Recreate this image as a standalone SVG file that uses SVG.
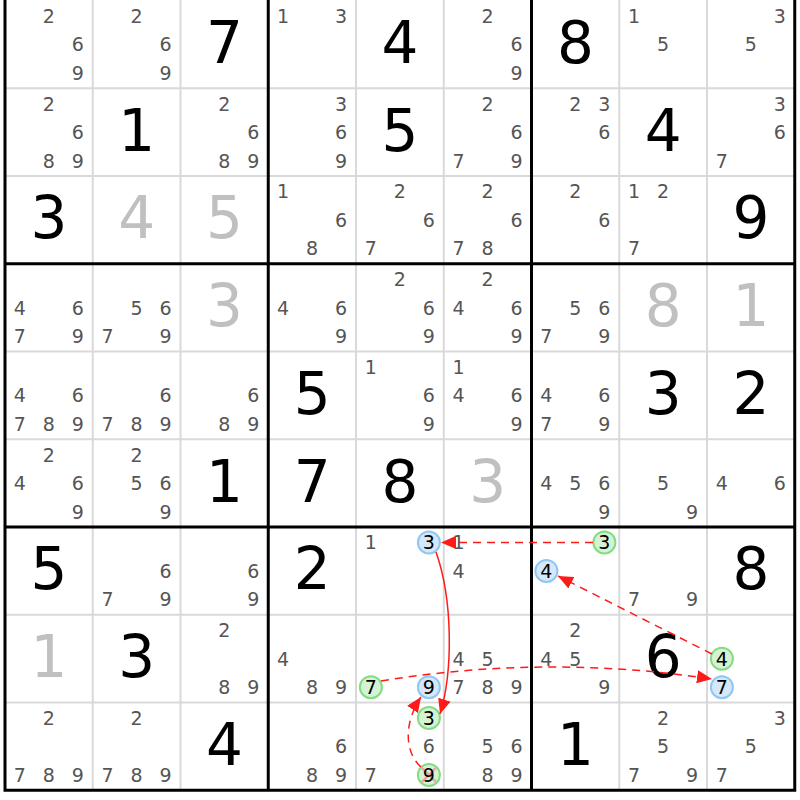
<svg xmlns="http://www.w3.org/2000/svg" width="800" height="800" viewBox="0 0 800 800">
<defs>
<style>
.c{font-family:"DejaVu Sans",Verdana,sans-serif;font-size:19px;fill:#555;text-anchor:middle}
.k{font-family:"DejaVu Sans",Verdana,sans-serif;font-size:19px;fill:#000;text-anchor:middle}
.g{font-family:"DejaVu Sans",Verdana,sans-serif;font-size:58px;fill:#000;text-anchor:middle}
.s{font-family:"DejaVu Sans",Verdana,sans-serif;font-size:58px;fill:#c0c0c0;text-anchor:middle}
.thin{stroke:#d9d9d9;stroke-width:2}
.thick{stroke:#000;stroke-width:3}
.cg{fill:#d4f3d4;stroke:#84db84;stroke-width:2}
.cb{fill:#d4e8fa;stroke:#90c6f2;stroke-width:2}
.arr{fill:none;stroke:#ff1a1a;stroke-width:1.5}
.dash{stroke-dasharray:8,6}
</style>
<marker id="ah" markerUnits="userSpaceOnUse" markerWidth="16" markerHeight="13" refX="15" refY="6.5" orient="auto">
<path d="M0,0 L15,6.5 L0,13 z" fill="#ff1a1a"/>
</marker>
</defs>
<rect x="0" y="0" width="800" height="800" fill="#fff"/>
<g id="grid">
<path class="thin" d="M92.75 0V790M180.5 0V790M356 0V790M443.75 0V790M619.25 0V790M707 0V790M5 88.25H795M5 176H795M5 351.5H795M5 439.25H795M5 614.75H795M5 702.5H795"/>
<path class="thick" d="M5 0V791.75M268.25 0V790M531.5 0V790M794.75 0V791.75M5 263.75H795M5 527H795M3.5 790.25H796.25"/>
</g>
<g id="cells">
<g id="r0c0" transform="translate(5,0.5)"><text class="c" x="43.9" y="22.4">2</text><text class="c" x="72.9" y="50.9">6</text><text class="c" x="72.9" y="79.4">9</text></g>
<g id="r0c1" transform="translate(92.75,0.5)"><text class="c" x="43.9" y="22.4">2</text><text class="c" x="72.9" y="50.9">6</text><text class="c" x="72.9" y="79.4">9</text></g>
<g id="r0c2" transform="translate(180.5,0.5)"><text class="g" x="43.9" y="62.4">7</text></g>
<g id="r0c3" transform="translate(268.25,0.5)"><text class="c" x="14.9" y="22.4">1</text><text class="c" x="72.9" y="22.4">3</text></g>
<g id="r0c4" transform="translate(356,0.5)"><text class="g" x="43.9" y="62.4">4</text></g>
<g id="r0c5" transform="translate(443.75,0.5)"><text class="c" x="43.9" y="22.4">2</text><text class="c" x="72.9" y="50.9">6</text><text class="c" x="72.9" y="79.4">9</text></g>
<g id="r0c6" transform="translate(531.5,0.5)"><text class="g" x="43.9" y="62.4">8</text></g>
<g id="r0c7" transform="translate(619.25,0.5)"><text class="c" x="14.9" y="22.4">1</text><text class="c" x="43.9" y="50.9">5</text></g>
<g id="r0c8" transform="translate(707,0.5)"><text class="c" x="72.9" y="22.4">3</text><text class="c" x="43.9" y="50.9">5</text></g>
<g id="r1c0" transform="translate(5,88.25)"><text class="c" x="43.9" y="22.4">2</text><text class="c" x="72.9" y="50.9">6</text><text class="c" x="43.9" y="79.4">8</text><text class="c" x="72.9" y="79.4">9</text></g>
<g id="r1c1" transform="translate(92.75,88.25)"><text class="g" x="43.9" y="62.4">1</text></g>
<g id="r1c2" transform="translate(180.5,88.25)"><text class="c" x="43.9" y="22.4">2</text><text class="c" x="72.9" y="50.9">6</text><text class="c" x="43.9" y="79.4">8</text><text class="c" x="72.9" y="79.4">9</text></g>
<g id="r1c3" transform="translate(268.25,88.25)"><text class="c" x="72.9" y="22.4">3</text><text class="c" x="72.9" y="50.9">6</text><text class="c" x="72.9" y="79.4">9</text></g>
<g id="r1c4" transform="translate(356,88.25)"><text class="g" x="43.9" y="62.4">5</text></g>
<g id="r1c5" transform="translate(443.75,88.25)"><text class="c" x="43.9" y="22.4">2</text><text class="c" x="72.9" y="50.9">6</text><text class="c" x="14.9" y="79.4">7</text><text class="c" x="72.9" y="79.4">9</text></g>
<g id="r1c6" transform="translate(531.5,88.25)"><text class="c" x="43.9" y="22.4">2</text><text class="c" x="72.9" y="22.4">3</text><text class="c" x="72.9" y="50.9">6</text></g>
<g id="r1c7" transform="translate(619.25,88.25)"><text class="g" x="43.9" y="62.4">4</text></g>
<g id="r1c8" transform="translate(707,88.25)"><text class="c" x="72.9" y="22.4">3</text><text class="c" x="72.9" y="50.9">6</text><text class="c" x="14.9" y="79.4">7</text></g>
<g id="r2c0" transform="translate(5,176)"><text class="g" x="43.9" y="62.4">3</text></g>
<g id="r2c1" transform="translate(92.75,176)"><text class="s" x="43.9" y="62.4">4</text></g>
<g id="r2c2" transform="translate(180.5,176)"><text class="s" x="43.9" y="62.4">5</text></g>
<g id="r2c3" transform="translate(268.25,176)"><text class="c" x="14.9" y="22.4">1</text><text class="c" x="72.9" y="50.9">6</text><text class="c" x="43.9" y="79.4">8</text></g>
<g id="r2c4" transform="translate(356,176)"><text class="c" x="43.9" y="22.4">2</text><text class="c" x="72.9" y="50.9">6</text><text class="c" x="14.9" y="79.4">7</text></g>
<g id="r2c5" transform="translate(443.75,176)"><text class="c" x="43.9" y="22.4">2</text><text class="c" x="72.9" y="50.9">6</text><text class="c" x="14.9" y="79.4">7</text><text class="c" x="43.9" y="79.4">8</text></g>
<g id="r2c6" transform="translate(531.5,176)"><text class="c" x="43.9" y="22.4">2</text><text class="c" x="72.9" y="50.9">6</text></g>
<g id="r2c7" transform="translate(619.25,176)"><text class="c" x="14.9" y="22.4">1</text><text class="c" x="43.9" y="22.4">2</text><text class="c" x="14.9" y="79.4">7</text></g>
<g id="r2c8" transform="translate(707,176)"><text class="g" x="43.9" y="62.4">9</text></g>
<g id="r3c0" transform="translate(5,263.75)"><text class="c" x="14.9" y="50.9">4</text><text class="c" x="72.9" y="50.9">6</text><text class="c" x="14.9" y="79.4">7</text><text class="c" x="72.9" y="79.4">9</text></g>
<g id="r3c1" transform="translate(92.75,263.75)"><text class="c" x="43.9" y="50.9">5</text><text class="c" x="72.9" y="50.9">6</text><text class="c" x="14.9" y="79.4">7</text><text class="c" x="72.9" y="79.4">9</text></g>
<g id="r3c2" transform="translate(180.5,263.75)"><text class="s" x="43.9" y="62.4">3</text></g>
<g id="r3c3" transform="translate(268.25,263.75)"><text class="c" x="14.9" y="50.9">4</text><text class="c" x="72.9" y="50.9">6</text><text class="c" x="72.9" y="79.4">9</text></g>
<g id="r3c4" transform="translate(356,263.75)"><text class="c" x="43.9" y="22.4">2</text><text class="c" x="72.9" y="50.9">6</text><text class="c" x="72.9" y="79.4">9</text></g>
<g id="r3c5" transform="translate(443.75,263.75)"><text class="c" x="43.9" y="22.4">2</text><text class="c" x="14.9" y="50.9">4</text><text class="c" x="72.9" y="50.9">6</text><text class="c" x="72.9" y="79.4">9</text></g>
<g id="r3c6" transform="translate(531.5,263.75)"><text class="c" x="43.9" y="50.9">5</text><text class="c" x="72.9" y="50.9">6</text><text class="c" x="14.9" y="79.4">7</text><text class="c" x="72.9" y="79.4">9</text></g>
<g id="r3c7" transform="translate(619.25,263.75)"><text class="s" x="43.9" y="62.4">8</text></g>
<g id="r3c8" transform="translate(707,263.75)"><text class="s" x="43.9" y="62.4">1</text></g>
<g id="r4c0" transform="translate(5,351.5)"><text class="c" x="14.9" y="50.9">4</text><text class="c" x="72.9" y="50.9">6</text><text class="c" x="14.9" y="79.4">7</text><text class="c" x="43.9" y="79.4">8</text><text class="c" x="72.9" y="79.4">9</text></g>
<g id="r4c1" transform="translate(92.75,351.5)"><text class="c" x="72.9" y="50.9">6</text><text class="c" x="14.9" y="79.4">7</text><text class="c" x="43.9" y="79.4">8</text><text class="c" x="72.9" y="79.4">9</text></g>
<g id="r4c2" transform="translate(180.5,351.5)"><text class="c" x="72.9" y="50.9">6</text><text class="c" x="43.9" y="79.4">8</text><text class="c" x="72.9" y="79.4">9</text></g>
<g id="r4c3" transform="translate(268.25,351.5)"><text class="g" x="43.9" y="62.4">5</text></g>
<g id="r4c4" transform="translate(356,351.5)"><text class="c" x="14.9" y="22.4">1</text><text class="c" x="72.9" y="50.9">6</text><text class="c" x="72.9" y="79.4">9</text></g>
<g id="r4c5" transform="translate(443.75,351.5)"><text class="c" x="14.9" y="22.4">1</text><text class="c" x="14.9" y="50.9">4</text><text class="c" x="72.9" y="50.9">6</text><text class="c" x="72.9" y="79.4">9</text></g>
<g id="r4c6" transform="translate(531.5,351.5)"><text class="c" x="14.9" y="50.9">4</text><text class="c" x="72.9" y="50.9">6</text><text class="c" x="14.9" y="79.4">7</text><text class="c" x="72.9" y="79.4">9</text></g>
<g id="r4c7" transform="translate(619.25,351.5)"><text class="g" x="43.9" y="62.4">3</text></g>
<g id="r4c8" transform="translate(707,351.5)"><text class="g" x="43.9" y="62.4">2</text></g>
<g id="r5c0" transform="translate(5,439.25)"><text class="c" x="43.9" y="22.4">2</text><text class="c" x="14.9" y="50.9">4</text><text class="c" x="72.9" y="50.9">6</text><text class="c" x="72.9" y="79.4">9</text></g>
<g id="r5c1" transform="translate(92.75,439.25)"><text class="c" x="43.9" y="22.4">2</text><text class="c" x="43.9" y="50.9">5</text><text class="c" x="72.9" y="50.9">6</text><text class="c" x="72.9" y="79.4">9</text></g>
<g id="r5c2" transform="translate(180.5,439.25)"><text class="g" x="43.9" y="62.4">1</text></g>
<g id="r5c3" transform="translate(268.25,439.25)"><text class="g" x="43.9" y="62.4">7</text></g>
<g id="r5c4" transform="translate(356,439.25)"><text class="g" x="43.9" y="62.4">8</text></g>
<g id="r5c5" transform="translate(443.75,439.25)"><text class="s" x="43.9" y="62.4">3</text></g>
<g id="r5c6" transform="translate(531.5,439.25)"><text class="c" x="14.9" y="50.9">4</text><text class="c" x="43.9" y="50.9">5</text><text class="c" x="72.9" y="50.9">6</text><text class="c" x="72.9" y="79.4">9</text></g>
<g id="r5c7" transform="translate(619.25,439.25)"><text class="c" x="43.9" y="50.9">5</text><text class="c" x="72.9" y="79.4">9</text></g>
<g id="r5c8" transform="translate(707,439.25)"><text class="c" x="14.9" y="50.9">4</text><text class="c" x="72.9" y="50.9">6</text></g>
<g id="r6c0" transform="translate(5,527)"><text class="g" x="43.9" y="62.4">5</text></g>
<g id="r6c1" transform="translate(92.75,527)"><text class="c" x="72.9" y="50.9">6</text><text class="c" x="14.9" y="79.4">7</text><text class="c" x="72.9" y="79.4">9</text></g>
<g id="r6c2" transform="translate(180.5,527)"><text class="c" x="72.9" y="50.9">6</text><text class="c" x="72.9" y="79.4">9</text></g>
<g id="r6c3" transform="translate(268.25,527)"><text class="g" x="43.9" y="62.4">2</text></g>
<g id="r6c4" transform="translate(356,527)"><text class="c" x="14.9" y="22.4">1</text><circle class="cb" cx="72.9" cy="15.4" r="11"/><text class="k" x="72.9" y="22.4">3</text></g>
<g id="r6c5" transform="translate(443.75,527)"><text class="c" x="14.9" y="22.4">1</text><text class="c" x="14.9" y="50.9">4</text></g>
<g id="r6c6" transform="translate(531.5,527)"><circle class="cg" cx="72.9" cy="15.4" r="11"/><text class="k" x="72.9" y="22.4">3</text><circle class="cb" cx="14.9" cy="43.9" r="11"/><text class="k" x="14.9" y="50.9">4</text></g>
<g id="r6c7" transform="translate(619.25,527)"><text class="c" x="14.9" y="79.4">7</text><text class="c" x="72.9" y="79.4">9</text></g>
<g id="r6c8" transform="translate(707,527)"><text class="g" x="43.9" y="62.4">8</text></g>
<g id="r7c0" transform="translate(5,614.75)"><text class="s" x="43.9" y="62.4">1</text></g>
<g id="r7c1" transform="translate(92.75,614.75)"><text class="g" x="43.9" y="62.4">3</text></g>
<g id="r7c2" transform="translate(180.5,614.75)"><text class="c" x="43.9" y="22.4">2</text><text class="c" x="43.9" y="79.4">8</text><text class="c" x="72.9" y="79.4">9</text></g>
<g id="r7c3" transform="translate(268.25,614.75)"><text class="c" x="14.9" y="50.9">4</text><text class="c" x="43.9" y="79.4">8</text><text class="c" x="72.9" y="79.4">9</text></g>
<g id="r7c4" transform="translate(356,614.75)"><circle class="cg" cx="14.9" cy="72.4" r="11"/><text class="k" x="14.9" y="79.4">7</text><circle class="cb" cx="72.9" cy="72.4" r="11"/><text class="k" x="72.9" y="79.4">9</text></g>
<g id="r7c5" transform="translate(443.75,614.75)"><text class="c" x="14.9" y="50.9">4</text><text class="c" x="43.9" y="50.9">5</text><text class="c" x="14.9" y="79.4">7</text><text class="c" x="43.9" y="79.4">8</text><text class="c" x="72.9" y="79.4">9</text></g>
<g id="r7c6" transform="translate(531.5,614.75)"><text class="c" x="43.9" y="22.4">2</text><text class="c" x="14.9" y="50.9">4</text><text class="c" x="43.9" y="50.9">5</text><text class="c" x="72.9" y="79.4">9</text></g>
<g id="r7c7" transform="translate(619.25,614.75)"><text class="g" x="43.9" y="62.4">6</text></g>
<g id="r7c8" transform="translate(707,614.75)"><circle class="cg" cx="14.9" cy="43.9" r="11"/><text class="k" x="14.9" y="50.9">4</text><circle class="cb" cx="14.9" cy="72.4" r="11"/><text class="k" x="14.9" y="79.4">7</text></g>
<g id="r8c0" transform="translate(5,702.5)"><text class="c" x="43.9" y="22.4">2</text><text class="c" x="14.9" y="79.4">7</text><text class="c" x="43.9" y="79.4">8</text><text class="c" x="72.9" y="79.4">9</text></g>
<g id="r8c1" transform="translate(92.75,702.5)"><text class="c" x="43.9" y="22.4">2</text><text class="c" x="14.9" y="79.4">7</text><text class="c" x="43.9" y="79.4">8</text><text class="c" x="72.9" y="79.4">9</text></g>
<g id="r8c2" transform="translate(180.5,702.5)"><text class="g" x="43.9" y="62.4">4</text></g>
<g id="r8c3" transform="translate(268.25,702.5)"><text class="c" x="72.9" y="50.9">6</text><text class="c" x="43.9" y="79.4">8</text><text class="c" x="72.9" y="79.4">9</text></g>
<g id="r8c4" transform="translate(356,702.5)"><circle class="cg" cx="72.9" cy="15.4" r="11"/><text class="k" x="72.9" y="22.4">3</text><text class="c" x="72.9" y="50.9">6</text><text class="c" x="14.9" y="79.4">7</text><circle class="cg" cx="72.9" cy="72.4" r="11"/><path d="M65.9 65.4L79.9 79.4M79.9 65.4L65.9 79.4" stroke="#f2a3a3" stroke-width="2.5"/><text class="k" x="72.9" y="79.4">9</text></g>
<g id="r8c5" transform="translate(443.75,702.5)"><text class="c" x="43.9" y="50.9">5</text><text class="c" x="72.9" y="50.9">6</text><text class="c" x="43.9" y="79.4">8</text><text class="c" x="72.9" y="79.4">9</text></g>
<g id="r8c6" transform="translate(531.5,702.5)"><text class="g" x="43.9" y="62.4">1</text></g>
<g id="r8c7" transform="translate(619.25,702.5)"><text class="c" x="43.9" y="22.4">2</text><text class="c" x="43.9" y="50.9">5</text><text class="c" x="14.9" y="79.4">7</text><text class="c" x="72.9" y="79.4">9</text></g>
<g id="r8c8" transform="translate(707,702.5)"><text class="c" x="72.9" y="22.4">3</text><text class="c" x="43.9" y="50.9">5</text><text class="c" x="14.9" y="79.4">7</text></g>
</g>
<g id="connectors">
<path class="arr dash" d="M593 542.4L441 542.4" marker-end="url(#ah)"/>
<path class="arr" d="M436 552C453 600 453 672 440 714" marker-end="url(#ah)"/>
<path class="arr dash" d="M421 767C404 752 404 722 421 697" marker-end="url(#ah)"/>
<path class="arr dash" d="M381 681Q546 654 712 679" marker-end="url(#ah)"/>
<path class="arr dash" d="M712 654L558 576" marker-end="url(#ah)"/>
</g>
</svg>
